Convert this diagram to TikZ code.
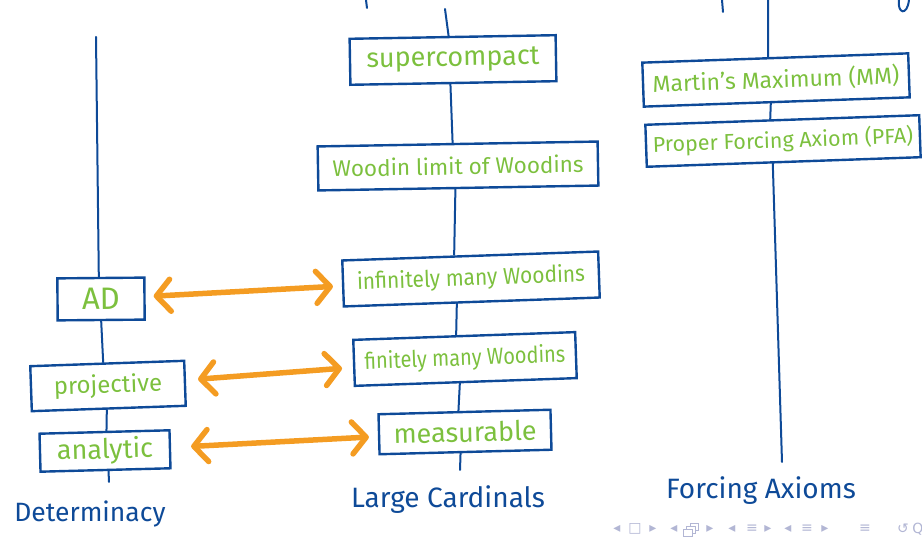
\documentclass[tikz,border=0pt]{standalone}
\usepackage{fontspec}
\setmainfont{Fira Sans}
\newfontfamily\symfont{DejaVu Sans}
\usetikzlibrary{arrows.meta}

\definecolor{inkblue}{RGB}{14,74,152}
\definecolor{inkgreen}{RGB}{124,192,62}
\definecolor{inkorange}{RGB}{244,156,34}
\definecolor{navgray}{RGB}{178,182,212}

\newcommand{\fs}[1]{\fontsize{#1}{#1}\selectfont}

\tikzset{
  box/.style={draw=inkblue, line width=2.4pt, text=inkgreen,
    inner sep=0pt, minimum width=#1},
  box/.default=100pt,
  spine/.style={draw=inkblue, line width=2pt, line cap=round},
  link/.style={draw=inkorange, line width=5.5pt, line cap=round,
    {Straight Barb[length=14pt,width=32pt,round]}-{Straight Barb[length=14pt,width=32pt,round]}},
  caption/.style={text=inkblue},
  nav/.style={text=navgray, font=\symfont\fs{14}, inner sep=0pt}
}

\begin{document}
\begin{tikzpicture}[x=1pt,y=1pt]
\useasboundingbox (0,0) rectangle (922,537);

% ---------- Determinacy column ----------
\node[box=87pt, minimum height=42pt, rotate=0.5, font=\fs{31}] (ad) at (101,238) {AD};
\node[box=154pt, minimum height=45pt, rotate=2, font=\fs{24}] (proj) at (108,151) {projective};
\node[box=130pt, minimum height=38pt, rotate=1.5, font=\fs{27}] (anal) at (105,86) {analytic};
\coordinate (dtop) at (96,500);
\coordinate (dbot) at (109,55);
\draw[spine] (dtop) -- ([xshift=-2pt]ad.north);
\draw[spine] (ad.south) -- ([xshift=-4pt]proj.north);
\draw[spine] ([xshift=-2pt]proj.south) -- ([xshift=2pt]anal.north);
\draw[spine] ([xshift=3pt]anal.south) -- (dbot);
\node[caption, font=\fs{26.5}] (det) at (90,23) {Determinacy};

% ---------- Large cardinals column ----------
\node[box=206pt, minimum height=46pt, rotate=1, font=\fs{27}] (sc) at (453,477) {supercompact};
\node[box=280pt, minimum height=44pt, rotate=1, font=\fs{22.5}] (wlw) at (458,371) {Woodin limit of Woodins};
\node[box=256pt, minimum height=46pt, rotate=2, font=\fs{23}] (inf) at (471,258) {\scalebox{0.91}[1]{infinitely many Woodins}};
\node[box=222pt, minimum height=46pt, rotate=2, font=\fs{23}] (fin) at (465,178) {\scalebox{0.87}[1]{finitely many Woodins}};
\node[box=172pt, minimum height=40pt, rotate=1.5, font=\fs{27}] (meas) at (465,105) {measurable};
\coordinate (ltop) at (445,528);
\coordinate (lbot) at (460,67);
\draw[spine] (ltop) -- ([xshift=-4pt]sc.north);
\draw[spine] ([xshift=-3pt]sc.south) -- ([xshift=-5pt]wlw.north);
\draw[spine] ([xshift=-3pt]wlw.south) -- ([xshift=-16pt]inf.north);
\draw[spine] ([xshift=-15pt]inf.south) -- ([xshift=-8pt]fin.north);
\draw[spine] ([xshift=-6pt]fin.south) -- ([xshift=-6pt]meas.north);
\draw[spine] ([xshift=-5pt]meas.south) -- (lbot);
\node[caption, font=\fs{28}] (lc) at (448,37) {Large Cardinals};

% ---------- Forcing axioms column ----------
\node[box=266pt, minimum height=44pt, rotate=2, font=\fs{23}] (mm) at (776,457) {Martin's Maximum (MM)};
\node[box=274pt, minimum height=42pt, rotate=2, font=\fs{21.5}] (pfa) at (783,396) {Proper Forcing Axiom (PFA)};
\coordinate (ftop) at (768,537);
\coordinate (fbot) at (782,75);
\draw[spine] (ftop) -- ([xshift=-7pt]mm.north);
\draw[spine] ([xshift=-6pt]mm.south) -- ([xshift=-12pt]pfa.north);
\draw[spine] ([xshift=-11pt]pfa.south) -- (fbot);
\node[caption, font=\fs{28}] (fa) at (761,46) {Forcing Axioms};

% ---------- correspondences ----------
\draw[link, shorten <=8pt, shorten >=9pt] (ad) -- (inf);
\draw[link, shorten <=12pt, shorten >=11pt] (proj) -- (fin);
\draw[link, shorten <=20pt, shorten >=9pt] (anal) -- (meas);

% ---------- strokes running in from the top edge ----------
\draw[spine] (366,537) -- (367,529);
\draw[spine] (722,537) -- (723,525);
\draw[spine] (899,537) .. controls (897,524) and (907,520) .. (909,537);

% ---------- navigation symbols ----------
\foreach \x/\s in {617/◂, 635/□, 653/▸, 674/◂, 710/▸, 732/◂, 752/≡, 768/▸, 788/◂, 807/≡, 825/▸, 865/≡, 903/↺}
  \node[nav] at (\x,8) {\s};
\node[nav] (navq) at (918,8) {Q};
% stacked-frames icon
\draw[navgray, line width=0.9pt] (690,7) -- (690,14) -- (698,14) -- (698,7) -- cycle;
\draw[navgray, line width=0.9pt, fill=white] (686,4) rectangle (695,11);
\draw[navgray, line width=0.9pt, fill=white] (683,1) rectangle (692,8);
\end{tikzpicture}
\end{document}
